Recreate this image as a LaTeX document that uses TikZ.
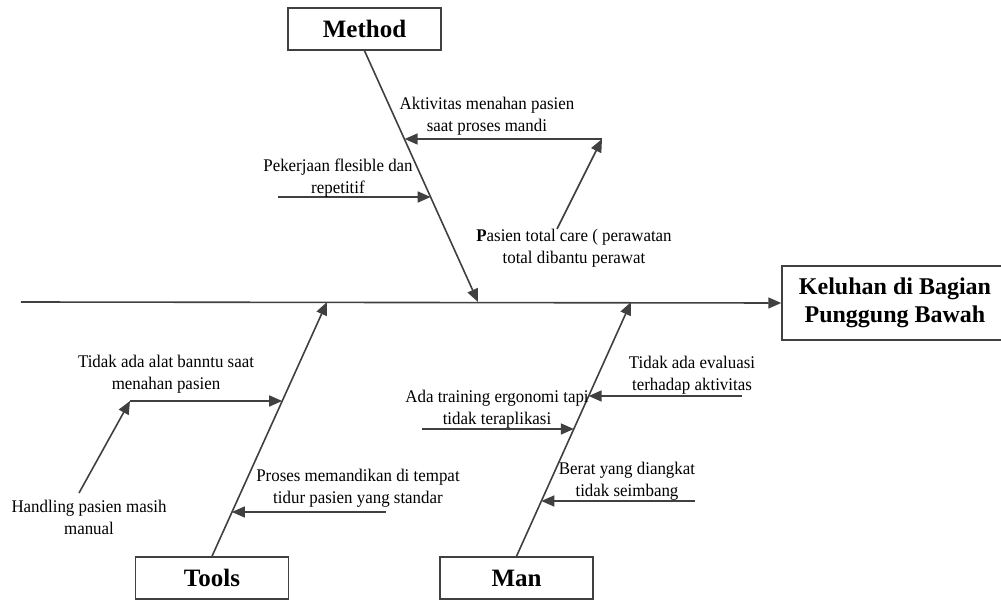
\documentclass[tikz,border=0pt]{standalone}
\usepackage{fontspec}
\setmainfont{Liberation Serif}
\newfontfamily\lblfont[FakeStretch=0.95]{Liberation Serif}
\usetikzlibrary{arrows.meta}
\definecolor{linec}{HTML}{404040}
\begin{document}
\begin{tikzpicture}[x=1pt,y=-1pt,
  lbl/.style={font=\lblfont\fontsize{17.8}{22}\selectfont, align=center, inner sep=0pt, text=black},
  ttl/.style={draw=linec, line width=1.5pt, font=\fontsize{25}{30}\selectfont\bfseries, inner sep=0pt, minimum width=153pt, minimum height=42pt, fill=white},
  bone/.style={draw=linec, line width=1.6pt, -{Triangle[length=13pt,width=11pt]}},
]
\useasboundingbox (0,0) rectangle (1001,601);
% boxes
\node[ttl] (method) at (364.5,29) {Method};
\node[ttl] (tools) at (212,578) {Tools};
\node[ttl] (man) at (516.5,578) {Man};
\node[ttl, minimum width=226pt, minimum height=74pt, align=center, font=\fontsize{24}{28}\selectfont\bfseries] (effect) at (895,303) {Keluhan di Bagian\\Punggung Bawah};
% main spine
\coordinate (tail) at (21,302);
\draw[bone] (tail) -- (effect.west);
% spine tips
\coordinate (mtip) at (478,302);
\coordinate (ttip) at (327,302);
\coordinate (ntip) at (631,302);
\draw[bone] (method.south) -- (mtip);
\draw[bone] (tools.north) -- (ttip);
\draw[bone] (man.north) -- (ntip);
% Method branches
\coordinate (m1) at (404.6,139);
\coordinate (m1s) at (602,139);
\coordinate (m1b) at (557,229);
\draw[bone] (m1s) -- (m1);
\draw[bone] (m1b) -- (m1s);
\coordinate (m2) at (430.7,197);
\coordinate (m2s) at (278,197);
\draw[bone] (m2s) -- (m2);
\node[lbl] (l1) at (487,116) {Aktivitas menahan pasien\\saat proses mandi};
\node[lbl] (l2) at (338,178) {Pekerjaan flesible dan\\repetitif};
\node[lbl] (l3) at (574,248) {\textbf{P}asien total care ( perawatan\\total dibantu perawat};
% Tools branches
\coordinate (t1) at (282.2,401);
\coordinate (t1s) at (130,401);
\coordinate (t1b) at (79,493);
\draw[bone] (t1s) -- (t1);
\draw[bone] (t1b) -- (t1s);
\coordinate (t2) at (231.9,512);
\coordinate (t2s) at (386,512);
\draw[bone] (t2s) -- (t2);
\node[lbl] (l4) at (166,374) {Tidak ada alat banntu saat\\menahan pasien};
\node[lbl] (l5) at (89,517) {Handling pasien masih\\manual};
\node[lbl] (l6) at (358,488) {Proses memandikan di tempat\\tidur pasien yang standar};
% Man branches
\coordinate (n1) at (588.6,396);
\coordinate (n1s) at (742,396);
\draw[bone] (n1s) -- (n1);
\coordinate (n2) at (573.8,429);
\coordinate (n2s) at (422,429);
\draw[bone] (n2s) -- (n2);
\coordinate (n3) at (541.3,501);
\coordinate (n3s) at (695,501);
\draw[bone] (n3s) -- (n3);
\node[lbl] (l7) at (692,375) {Tidak ada evaluasi\\terhadap aktivitas};
\node[lbl] (l8) at (497,409) {Ada training ergonomi tapi\\tidak teraplikasi};
\node[lbl] (l9) at (627,481) {Berat yang diangkat\\tidak seimbang};
\end{tikzpicture}
\end{document}
